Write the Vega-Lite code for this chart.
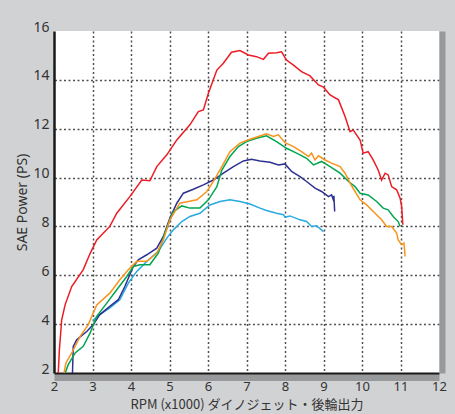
{
 "$schema": "https://vega.github.io/schema/vega-lite/v6.json",
 "width": 385, "height": 342,
 "autosize": {"type": "none"},
 "padding": {"left": 54, "top": 31, "right": 16, "bottom": 41},
 "background": "#d1d2d4",
 "config": {"view": {"stroke": null, "fill": "#ffffff"}},
 "data": {"values": [
  {"s":"lightblue","rpm":3.0,"ps":4.15},{"s":"lightblue","rpm":3.19,"ps":4.39},{"s":"lightblue","rpm":3.45,"ps":4.66},{"s":"lightblue","rpm":3.71,"ps":5.0},{"s":"lightblue","rpm":3.93,"ps":5.68},{"s":"lightblue","rpm":4.15,"ps":6.16},{"s":"lightblue","rpm":4.41,"ps":6.57},{"s":"lightblue","rpm":4.71,"ps":6.98},{"s":"lightblue","rpm":4.93,"ps":7.52},{"s":"lightblue","rpm":5.1,"ps":7.86},{"s":"lightblue","rpm":5.32,"ps":8.2},{"s":"lightblue","rpm":5.53,"ps":8.41},{"s":"lightblue","rpm":5.79,"ps":8.54},{"s":"lightblue","rpm":6.05,"ps":8.88},{"s":"lightblue","rpm":6.31,"ps":9.02},{"s":"lightblue","rpm":6.57,"ps":9.09},{"s":"lightblue","rpm":6.83,"ps":9.02},{"s":"lightblue","rpm":7.09,"ps":8.92},{"s":"lightblue","rpm":7.35,"ps":8.75},{"s":"lightblue","rpm":7.52,"ps":8.65},{"s":"lightblue","rpm":7.78,"ps":8.54},{"s":"lightblue","rpm":7.96,"ps":8.48},{"s":"lightblue","rpm":8.0,"ps":8.38},{"s":"lightblue","rpm":8.13,"ps":8.43},{"s":"lightblue","rpm":8.39,"ps":8.27},{"s":"lightblue","rpm":8.56,"ps":8.2},{"s":"lightblue","rpm":8.69,"ps":8.0},{"s":"lightblue","rpm":8.82,"ps":8.03},{"s":"lightblue","rpm":9.0,"ps":7.79},

  {"s":"red","rpm":2.11,"ps":2.0},{"s":"red","rpm":2.14,"ps":2.95},{"s":"red","rpm":2.2,"ps":4.18},{"s":"red","rpm":2.29,"ps":4.8},{"s":"red","rpm":2.46,"ps":5.54},{"s":"red","rpm":2.76,"ps":6.23},{"s":"red","rpm":2.94,"ps":6.9},{"s":"red","rpm":3.11,"ps":7.45},{"s":"red","rpm":3.45,"ps":8.0},{"s":"red","rpm":3.63,"ps":8.54},{"s":"red","rpm":3.97,"ps":9.22},{"s":"red","rpm":4.28,"ps":9.9},{"s":"red","rpm":4.49,"ps":9.87},{"s":"red","rpm":4.67,"ps":10.45},{"s":"red","rpm":4.93,"ps":10.93},{"s":"red","rpm":5.19,"ps":11.54},{"s":"red","rpm":5.53,"ps":12.16},{"s":"red","rpm":5.75,"ps":12.7},{"s":"red","rpm":5.88,"ps":12.77},{"s":"red","rpm":6.01,"ps":13.45},{"s":"red","rpm":6.23,"ps":14.4},{"s":"red","rpm":6.4,"ps":14.68},{"s":"red","rpm":6.61,"ps":15.13},{"s":"red","rpm":6.83,"ps":15.2},{"s":"red","rpm":7.05,"ps":15.02},{"s":"red","rpm":7.26,"ps":14.95},{"s":"red","rpm":7.44,"ps":14.84},{"s":"red","rpm":7.57,"ps":15.09},{"s":"red","rpm":7.78,"ps":15.11},{"s":"red","rpm":7.91,"ps":15.15},{"s":"red","rpm":8.04,"ps":14.81},{"s":"red","rpm":8.22,"ps":14.6},{"s":"red","rpm":8.43,"ps":14.34},{"s":"red","rpm":8.65,"ps":14.16},{"s":"red","rpm":8.87,"ps":13.79},{"s":"red","rpm":9.0,"ps":13.7},{"s":"red","rpm":9.17,"ps":13.38},{"s":"red","rpm":9.39,"ps":13.18},{"s":"red","rpm":9.56,"ps":12.5},{"s":"red","rpm":9.69,"ps":11.88},{"s":"red","rpm":9.77,"ps":11.95},{"s":"red","rpm":9.95,"ps":11.54},{"s":"red","rpm":10.03,"ps":11.0},{"s":"red","rpm":10.16,"ps":11.06},{"s":"red","rpm":10.29,"ps":10.72},{"s":"red","rpm":10.42,"ps":10.31},{"s":"red","rpm":10.51,"ps":9.9},{"s":"red","rpm":10.6,"ps":10.18},{"s":"red","rpm":10.68,"ps":10.11},{"s":"red","rpm":10.77,"ps":9.63},{"s":"red","rpm":10.9,"ps":9.5},{"s":"red","rpm":10.99,"ps":9.16},{"s":"red","rpm":11.03,"ps":8.82},{"s":"red","rpm":11.06,"ps":8.07},

  {"s":"navy","rpm":2.48,"ps":2.0},{"s":"navy","rpm":2.5,"ps":3.09},{"s":"navy","rpm":2.59,"ps":3.36},{"s":"navy","rpm":2.85,"ps":3.7},{"s":"navy","rpm":3.02,"ps":3.98},{"s":"navy","rpm":3.19,"ps":4.39},{"s":"navy","rpm":3.45,"ps":4.73},{"s":"navy","rpm":3.67,"ps":5.0},{"s":"navy","rpm":3.84,"ps":5.54},{"s":"navy","rpm":4.06,"ps":6.36},{"s":"navy","rpm":4.19,"ps":6.63},{"s":"navy","rpm":4.41,"ps":6.84},{"s":"navy","rpm":4.67,"ps":7.11},{"s":"navy","rpm":4.84,"ps":7.59},{"s":"navy","rpm":5.01,"ps":8.34},{"s":"navy","rpm":5.19,"ps":8.95},{"s":"navy","rpm":5.36,"ps":9.36},{"s":"navy","rpm":5.62,"ps":9.52},{"s":"navy","rpm":5.88,"ps":9.7},{"s":"navy","rpm":6.14,"ps":9.9},{"s":"navy","rpm":6.4,"ps":10.18},{"s":"navy","rpm":6.66,"ps":10.45},{"s":"navy","rpm":6.92,"ps":10.68},{"s":"navy","rpm":7.13,"ps":10.75},{"s":"navy","rpm":7.35,"ps":10.68},{"s":"navy","rpm":7.61,"ps":10.63},{"s":"navy","rpm":7.83,"ps":10.52},{"s":"navy","rpm":8.0,"ps":10.56},{"s":"navy","rpm":8.17,"ps":10.25},{"s":"navy","rpm":8.39,"ps":10.04},{"s":"navy","rpm":8.56,"ps":9.84},{"s":"navy","rpm":8.78,"ps":9.57},{"s":"navy","rpm":8.95,"ps":9.43},{"s":"navy","rpm":9.13,"ps":9.22},{"s":"navy","rpm":9.21,"ps":9.29},{"s":"navy","rpm":9.25,"ps":9.12},{"s":"navy","rpm":9.27,"ps":9.25},{"s":"navy","rpm":9.29,"ps":8.61},

  {"s":"green","rpm":2.29,"ps":2.0},{"s":"green","rpm":2.37,"ps":2.34},{"s":"green","rpm":2.55,"ps":2.82},{"s":"green","rpm":2.76,"ps":3.09},{"s":"green","rpm":2.94,"ps":3.64},{"s":"green","rpm":3.11,"ps":4.32},{"s":"green","rpm":3.37,"ps":4.86},{"s":"green","rpm":3.63,"ps":5.41},{"s":"green","rpm":3.89,"ps":5.95},{"s":"green","rpm":4.06,"ps":6.36},{"s":"green","rpm":4.23,"ps":6.43},{"s":"green","rpm":4.49,"ps":6.43},{"s":"green","rpm":4.71,"ps":6.91},{"s":"green","rpm":4.88,"ps":7.73},{"s":"green","rpm":5.1,"ps":8.61},{"s":"green","rpm":5.32,"ps":8.84},{"s":"green","rpm":5.53,"ps":8.75},{"s":"green","rpm":5.79,"ps":8.75},{"s":"green","rpm":6.01,"ps":9.09},{"s":"green","rpm":6.23,"ps":9.63},{"s":"green","rpm":6.36,"ps":10.31},{"s":"green","rpm":6.57,"ps":10.86},{"s":"green","rpm":6.79,"ps":11.27},{"s":"green","rpm":7.0,"ps":11.47},{"s":"green","rpm":7.26,"ps":11.61},{"s":"green","rpm":7.52,"ps":11.71},{"s":"green","rpm":7.78,"ps":11.47},{"s":"green","rpm":8.04,"ps":11.2},{"s":"green","rpm":8.3,"ps":11.0},{"s":"green","rpm":8.56,"ps":10.79},{"s":"green","rpm":8.74,"ps":10.52},{"s":"green","rpm":8.95,"ps":10.66},{"s":"green","rpm":9.17,"ps":10.45},{"s":"green","rpm":9.43,"ps":10.18},{"s":"green","rpm":9.65,"ps":9.84},{"s":"green","rpm":9.82,"ps":9.63},{"s":"green","rpm":9.95,"ps":9.36},{"s":"green","rpm":10.16,"ps":9.29},{"s":"green","rpm":10.38,"ps":9.02},{"s":"green","rpm":10.55,"ps":8.75},{"s":"green","rpm":10.68,"ps":8.68},{"s":"green","rpm":10.81,"ps":8.41},{"s":"green","rpm":10.94,"ps":8.2},{"s":"green","rpm":10.99,"ps":8.0},

  {"s":"orange","rpm":2.26,"ps":2.0},{"s":"orange","rpm":2.31,"ps":2.41},{"s":"orange","rpm":2.46,"ps":2.82},{"s":"orange","rpm":2.68,"ps":3.5},{"s":"orange","rpm":2.89,"ps":3.98},{"s":"orange","rpm":3.11,"ps":4.79},{"s":"orange","rpm":3.45,"ps":5.27},{"s":"orange","rpm":3.71,"ps":5.82},{"s":"orange","rpm":3.93,"ps":6.23},{"s":"orange","rpm":4.15,"ps":6.57},{"s":"orange","rpm":4.41,"ps":6.57},{"s":"orange","rpm":4.67,"ps":6.91},{"s":"orange","rpm":4.84,"ps":7.45},{"s":"orange","rpm":5.01,"ps":8.27},{"s":"orange","rpm":5.27,"ps":8.95},{"s":"orange","rpm":5.49,"ps":9.02},{"s":"orange","rpm":5.71,"ps":9.09},{"s":"orange","rpm":5.97,"ps":9.43},{"s":"orange","rpm":6.14,"ps":9.84},{"s":"orange","rpm":6.36,"ps":10.45},{"s":"orange","rpm":6.57,"ps":11.06},{"s":"orange","rpm":6.83,"ps":11.41},{"s":"orange","rpm":7.09,"ps":11.57},{"s":"orange","rpm":7.31,"ps":11.68},{"s":"orange","rpm":7.52,"ps":11.79},{"s":"orange","rpm":7.7,"ps":11.68},{"s":"orange","rpm":7.83,"ps":11.75},{"s":"orange","rpm":8.0,"ps":11.43},{"s":"orange","rpm":8.22,"ps":11.27},{"s":"orange","rpm":8.43,"ps":11.06},{"s":"orange","rpm":8.61,"ps":10.86},{"s":"orange","rpm":8.69,"ps":11.0},{"s":"orange","rpm":8.78,"ps":10.72},{"s":"orange","rpm":8.87,"ps":10.89},{"s":"orange","rpm":9.04,"ps":10.72},{"s":"orange","rpm":9.21,"ps":10.59},{"s":"orange","rpm":9.43,"ps":10.45},{"s":"orange","rpm":9.56,"ps":10.18},{"s":"orange","rpm":9.69,"ps":9.77},{"s":"orange","rpm":9.82,"ps":9.43},{"s":"orange","rpm":9.95,"ps":9.09},{"s":"orange","rpm":10.12,"ps":8.88},{"s":"orange","rpm":10.34,"ps":8.54},{"s":"orange","rpm":10.51,"ps":8.27},{"s":"orange","rpm":10.64,"ps":8.0},{"s":"orange","rpm":10.77,"ps":8.0},{"s":"orange","rpm":10.9,"ps":7.73},{"s":"orange","rpm":10.94,"ps":7.45},{"s":"orange","rpm":11.03,"ps":7.25},{"s":"orange","rpm":11.09,"ps":7.32},{"s":"orange","rpm":11.12,"ps":6.77}
 ]},
 "layer": [
  {
   "mark": {"type": "point", "opacity": 0},
   "encoding": {
    "x": {"field": "rpm", "type": "quantitative", "scale": {"domain": [2, 12], "nice": false, "zero": false},
      "axis": {"orient": "bottom", "offset": 4, "domainColor": "#98999b", "domainWidth": 7, "labels": false, "ticks": false, "title": null,
        "grid": true, "values": [3,4,5,6,7,8,9,10,11], "gridColor": "#505050", "gridDash": [2, 2.5], "gridWidth": 1.5}},
    "y": {"field": "ps", "type": "quantitative", "scale": {"domain": [2, 16], "nice": false, "zero": false},
      "axis": {"orient": "right", "offset": 3, "domainColor": "#98999b", "domainWidth": 6, "labels": false, "ticks": false, "title": null,
        "grid": true, "values": [4,6,8,10,12,14], "gridColor": "#505050", "gridDash": [2, 2.5], "gridWidth": 1.5}}
   }
  },
  {
   "mark": {"type": "line", "strokeWidth": 1.5},
   "encoding": {
    "x": {"field": "rpm", "type": "quantitative",
      "axis": {"orient": "bottom", "domainColor": "#1a1a1a", "domainWidth": 2, "ticks": false, "grid": false,
        "values": [2,3,4,5,6,7,8,9,10,11,12], "labelFlush": false, "labelOverlap": false, "labelFont": "Noto Sans", "labelFontSize": 13, "labelColor": "#333333", "labelPadding": 7,
        "title": "RPM (x1000) ダイノジェット・後輪出力", "titleFont": "Noto Sans CJK JP", "titleFontSize": 13, "titleFontWeight": "normal", "titleColor": "#333333", "titlePadding": 5}},
    "y": {"field": "ps", "type": "quantitative",
      "axis": {"orient": "left", "domainColor": "#1a1a1a", "domainWidth": 2.5, "ticks": false, "grid": false,
        "values": [2,4,6,8,10,12,14,16], "labelFlush": false, "labelOverlap": false, "labelFont": "Noto Sans", "labelFontSize": 14, "labelColor": "#333333", "labelPadding": 5, "labelOffset": -4,
        "title": "SAE Power (PS)", "titleFont": "Noto Sans", "titleFontSize": 14, "titleFontWeight": "normal", "titleColor": "#333333", "titlePadding": 3}},
    "color": {"field": "s", "type": "nominal",
      "scale": {"domain": ["lightblue","red","navy","green","orange"], "range": ["#27aae1","#ed1c24","#2e3192","#00a650","#f7941d"]},
      "legend": null}
   }
  }
 ],
 "resolve": {"axis": {"x": "independent", "y": "independent"}}
}
